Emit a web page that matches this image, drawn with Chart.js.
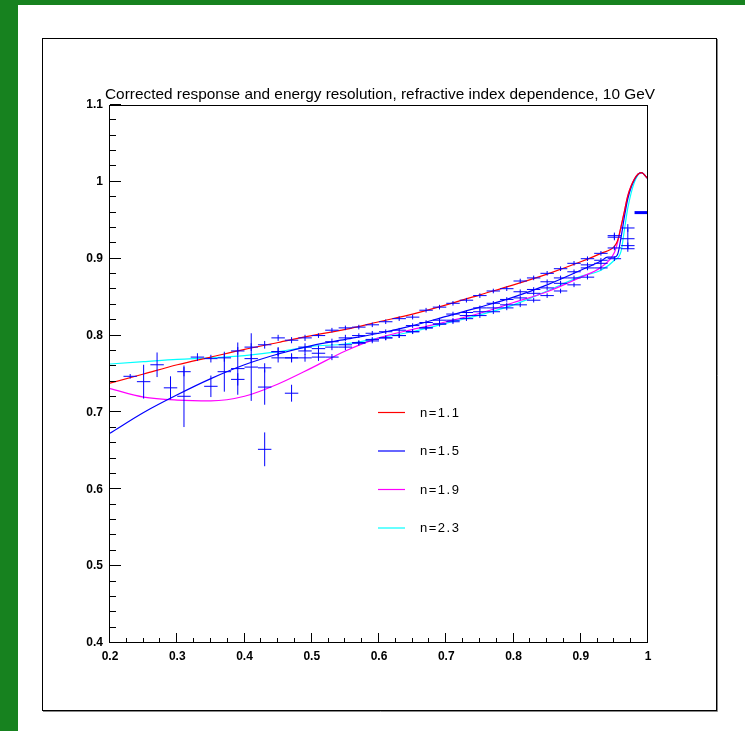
<!DOCTYPE html>
<html><head><meta charset="utf-8">
<script src="https://cdn.jsdelivr.net/npm/chart.js@4/dist/chart.umd.min.js"></script>
<style>html,body{margin:0;padding:0;background:#fff;overflow:hidden}canvas{display:block;position:absolute;left:0;top:0}</style>
</head><body>
<canvas id="c" width="745" height="731"></canvas>
<script>
// ---------- data ----------
const titleText = "Corrected response and energy resolution, refractive index dependence, 10 GeV";
const legendLabels = ["n=1.1", "n=1.5", "n=1.9", "n=2.3"];
const curveColors = ["#ff0000", "#0000ff", "#ff00ff", "#00ffff"];

const xTicks = [0.2, 0.3, 0.4, 0.5, 0.6, 0.7, 0.8, 0.9, 1.0];
const xTickLabels = ["0.2", "0.3", "0.4", "0.5", "0.6", "0.7", "0.8", "0.9", "1"];
const yTicks = [0.4, 0.5, 0.6, 0.7, 0.8, 0.9, 1.0, 1.1];
const yTickLabels = ["0.4", "0.5", "0.6", "0.7", "0.8", "0.9", "1", "1.1"];

// fitted curves
const curveRedX = [0.2, 0.25, 0.3, 0.35, 0.4, 0.45, 0.5, 0.55, 0.6, 0.65, 0.7, 0.75, 0.8, 0.85, 0.9, 0.93, 0.95, 0.955, 0.96, 0.965, 0.97, 0.98, 0.99, 1.0];
const curveN11 = [0.738, 0.750, 0.762, 0.772, 0.782, 0.791, 0.800, 0.808, 0.818, 0.828, 0.840, 0.853, 0.866, 0.880, 0.896, 0.907, 0.916, 0.924, 0.942, 0.962, 0.982, 1.004, 1.012, 1.004];
const curveBlueX = [0.2, 0.25, 0.3, 0.35, 0.4, 0.45, 0.5, 0.55, 0.6, 0.65, 0.7, 0.75, 0.8, 0.85, 0.9, 0.93, 0.94, 0.95, 0.955, 0.96, 0.965, 0.97, 0.98, 0.99, 1.0];
const curveN15 = [0.673, 0.700, 0.723, 0.744, 0.762, 0.776, 0.787, 0.795, 0.803, 0.813, 0.825, 0.837, 0.850, 0.866, 0.885, 0.897, 0.902, 0.902, 0.906, 0.928, 0.955, 0.978, 1.003, 1.012, 1.004];
const curveMagX = [0.2, 0.25, 0.3, 0.35, 0.4, 0.45, 0.5, 0.55, 0.6, 0.65, 0.7, 0.75, 0.8, 0.85, 0.9, 0.93, 0.95, 0.955, 0.96, 0.965, 0.97, 0.98, 0.99, 1.0];
const curveN19 = [0.731, 0.720, 0.716, 0.715, 0.721, 0.737, 0.758, 0.780, 0.797, 0.808, 0.818, 0.829, 0.843, 0.857, 0.876, 0.889, 0.908, 0.922, 0.942, 0.962, 0.982, 1.004, 1.012, 1.004];
const curveCyanX = [0.2, 0.25, 0.3, 0.35, 0.4, 0.45, 0.5, 0.55, 0.6, 0.65, 0.7, 0.75, 0.8, 0.85, 0.9, 0.93, 0.95, 0.96, 0.965, 0.97, 0.98, 0.99, 1.0];
const curveN23 = [0.763, 0.766, 0.769, 0.771, 0.774, 0.779, 0.786, 0.789, 0.797, 0.805, 0.816, 0.827, 0.840, 0.858, 0.877, 0.885, 0.898, 0.910, 0.938, 0.966, 1.000, 1.012, 1.004];

// short marker at the right edge
const markX = [0.98, 1.0];
const markY = [0.96, 0.96];

// measured points (x half-width 0.01)
const ptX = [0.23, 0.25, 0.27, 0.29, 0.31, 0.33, 0.35, 0.37, 0.39, 0.41, 0.43, 0.45, 0.47, 0.49, 0.51, 0.53, 0.55, 0.57, 0.59, 0.61, 0.63, 0.65, 0.67, 0.69, 0.71, 0.73, 0.75, 0.77, 0.79, 0.81, 0.83, 0.85, 0.87, 0.89, 0.91, 0.93, 0.95, 0.97];
const ptXErr = 0.01;
const ptN11 = [0.747, 0.740, 0.762, 0.732, 0.753, 0.772, 0.770, 0.771, 0.780, 0.785, 0.788, 0.797, 0.794, 0.797, 0.800, 0.807, 0.810, 0.811, 0.814, 0.818, 0.822, 0.824, 0.833, 0.837, 0.842, 0.846, 0.852, 0.858, 0.861, 0.871, 0.875, 0.881, 0.887, 0.894, 0.900, 0.907, 0.928, 0.926];
const errN11 = [0.003, 0.022, 0.016, 0.015, 0.006, 0.005, 0.005, 0.005, 0.005, 0.005, 0.005, 0.004, 0.004, 0.004, 0.003, 0.003, 0.003, 0.003, 0.003, 0.003, 0.003, 0.003, 0.003, 0.003, 0.003, 0.003, 0.003, 0.003, 0.003, 0.003, 0.003, 0.003, 0.003, 0.003, 0.003, 0.003, 0.004, 0.013];
const ptN15 = [null, null, null, null, 0.721, null, 0.734, 0.753, 0.757, 0.759, 0.758, 0.779, 0.771, 0.785, 0.777, 0.792, 0.797, 0.800, 0.803, 0.805, 0.807, 0.813, 0.817, 0.820, 0.828, 0.830, 0.836, 0.842, 0.847, 0.857, 0.860, 0.870, 0.875, 0.883, 0.892, 0.898, 0.914, 0.917];
const errN15 = [0, 0, 0, 0, 0.040, 0, 0.014, 0.026, 0.034, 0.044, 0.006, 0.006, 0.006, 0.005, 0.005, 0.004, 0.004, 0.003, 0.003, 0.003, 0.003, 0.003, 0.003, 0.003, 0.003, 0.003, 0.003, 0.003, 0.003, 0.003, 0.003, 0.003, 0.003, 0.003, 0.003, 0.003, 0.003, 0.004];
const ptN19 = [null, null, null, null, null, null, null, null, null, null, 0.733, 0.771, 0.725, 0.771, 0.772, 0.772, 0.785, 0.790, 0.793, 0.797, 0.800, 0.805, 0.810, 0.815, 0.818, 0.822, 0.826, 0.831, 0.836, 0.840, 0.846, 0.852, 0.858, 0.866, 0.876, 0.888, 0.930, 0.940];
const errN19 = [0, 0, 0, 0, 0, 0, 0, 0, 0, 0, 0.023, 0.006, 0.011, 0.005, 0.005, 0.004, 0.004, 0.003, 0.003, 0.003, 0.003, 0.003, 0.003, 0.003, 0.003, 0.003, 0.003, 0.003, 0.003, 0.003, 0.003, 0.003, 0.003, 0.003, 0.003, 0.003, 0.004, 0.005];
const ptN23 = [null, null, null, null, null, null, null, null, 0.743, 0.770, 0.652, 0.779, 0.771, 0.780, 0.783, 0.785, 0.788, 0.791, 0.795, 0.797, 0.800, 0.805, 0.810, 0.815, 0.820, 0.826, 0.831, 0.836, 0.840, 0.849, 0.855, 0.862, 0.868, 0.875, 0.888, 0.894, 0.900, 0.913];
const errN23 = [0, 0, 0, 0, 0, 0, 0, 0, 0.008, 0.006, 0.022, 0.005, 0.005, 0.005, 0.004, 0.004, 0.004, 0.003, 0.003, 0.003, 0.003, 0.003, 0.003, 0.003, 0.003, 0.003, 0.003, 0.003, 0.003, 0.003, 0.003, 0.003, 0.003, 0.003, 0.003, 0.003, 0.003, 0.004];

// ---------- build ----------
function xy(xs, ys) { return xs.map((v, i) => ({ x: v, y: ys[i] })); }
function pts(ys, es) {
  const out = [];
  ptX.forEach((v, i) => { if (ys[i] !== null) out.push({ x: v, y: ys[i], xe: ptXErr, ye: es[i] }); });
  return out;
}
function curve(xs, ys, col) {
  return { data: xy(xs, ys), showLine: true, borderColor: col, borderWidth: 1.2, pointRadius: 0, cubicInterpolationMode: 'monotone', fill: false };
}
function errSet(ys, es) {
  return { data: pts(ys, es), showLine: false, pointRadius: 0, errorBars: true, borderColor: '#0000ff' };
}

const FONT = "'Liberation Sans', Arial, sans-serif";

const rootPlugin = {
  id: 'rootStyle',
  beforeDraw(chart) {
    const ctx = chart.ctx;
    ctx.save();
    ctx.fillStyle = '#17821f';
    ctx.fillRect(0, 0, 745, 731);
    ctx.fillStyle = '#ffffff';
    ctx.fillRect(18, 5, 727, 726);
    // pad frame
    ctx.strokeStyle = '#888';
    ctx.lineWidth = 1;
    ctx.beginPath();
    ctx.moveTo(717.5, 39); ctx.lineTo(717.5, 711.5); ctx.lineTo(43, 711.5);
    ctx.stroke();
    ctx.strokeStyle = '#000';
    ctx.strokeRect(42.5, 38.5, 674, 672);
    ctx.restore();
  },
  afterDatasetsDraw(chart) {
    const { ctx, scales: { x, y } } = chart;
    ctx.save();
    ctx.lineWidth = 1;
    chart.data.datasets.forEach(ds => {
      if (!ds.errorBars) return;
      ctx.strokeStyle = ds.borderColor;
      ds.data.forEach(p => {
        const px = x.getPixelForValue(p.x), py = y.getPixelForValue(p.y);
        const x0 = x.getPixelForValue(p.x - p.xe), x1 = x.getPixelForValue(p.x + p.xe);
        const y0 = y.getPixelForValue(p.y - p.ye), y1 = y.getPixelForValue(p.y + p.ye);
        ctx.beginPath();
        ctx.moveTo(x0, py); ctx.lineTo(x1, py);
        ctx.moveTo(px, y0); ctx.lineTo(px, y1);
        ctx.stroke();
      });
    });
    ctx.restore();
  },
  afterDraw(chart) {
    const { ctx, chartArea: a, scales: { x, y } } = chart;
    ctx.save();
    // plot frame
    ctx.strokeStyle = '#000';
    ctx.lineWidth = 1;
    ctx.strokeRect(Math.round(a.left) - 0.5, Math.round(a.top) + 0.5, Math.round(a.right - a.left), Math.round(a.bottom - a.top) - 1);
    // ticks (inside)
    ctx.beginPath();
    for (let i = 0; i <= 32; i++) {
      const v = 0.2 + i * 0.025;
      const px = Math.round(x.getPixelForValue(v)) - 0.5;
      const len = (i % 4 === 0) ? 10 : 5;
      ctx.moveTo(px, a.bottom); ctx.lineTo(px, a.bottom - len);
    }
    for (let i = 0; i <= 35; i++) {
      const v = 0.4 + i * 0.02;
      const py = Math.round(y.getPixelForValue(v)) - 0.5;
      const len = (i % 5 === 0) ? 11 : 6;
      ctx.moveTo(a.left, py); ctx.lineTo(a.left + len, py);
    }
    ctx.stroke();
    // title
    ctx.fillStyle = '#000';
    ctx.font = '15px ' + FONT;
    ctx.textBaseline = 'middle';
    ctx.textAlign = 'left';
    const w = ctx.measureText(titleText).width;
    ctx.save();
    ctx.translate(105, 95);
    ctx.scale(550 / w, 1);
    ctx.fillText(titleText, 0, 0);
    ctx.restore();
    // legend
    const rows = [412.5, 451, 489.5, 528];
    ctx.font = '13px ' + FONT;
    try { ctx.letterSpacing = '1.5px'; } catch (e) {}
    legendLabels.forEach((lab, i) => {
      ctx.strokeStyle = curveColors[i];
      ctx.lineWidth = 1.2;
      ctx.beginPath();
      ctx.moveTo(378, rows[i]); ctx.lineTo(405, rows[i]);
      ctx.stroke();
      ctx.fillStyle = '#000';
      ctx.fillText(lab, 420, rows[i] + 0.5);
    });
    ctx.restore();
  }
};

new Chart(document.getElementById('c'), {
  type: 'scatter',
  data: {
    datasets: [
      curve(curveRedX, curveN11, curveColors[0]),
      curve(curveBlueX, curveN15, curveColors[1]),
      curve(curveMagX, curveN19, curveColors[2]),
      curve(curveCyanX, curveN23, curveColors[3]),
      { data: xy(markX, markY), showLine: true, borderColor: '#0000ff', borderWidth: 3, pointRadius: 0 },
      errSet(ptN11, errN11),
      errSet(ptN15, errN15),
      errSet(ptN19, errN19),
      errSet(ptN23, errN23)
    ]
  },
  options: {
    responsive: false,
    animation: false,
    devicePixelRatio: 1,
    layout: { padding: { left: 20, top: 105, right: 97, bottom: 40 } },
    plugins: { legend: { display: false }, title: { display: false }, tooltip: { enabled: false } },
    scales: {
      x: {
        type: 'linear', min: 0.2, max: 1.0,
        grid: { display: false, drawTicks: false, tickLength: 0 },
        border: { display: false },
        ticks: {
          color: '#000', padding: 6, maxRotation: 0, autoSkip: false,
          font: { family: FONT, size: 12, weight: 'bold' },
          callback: (v) => { const i = xTicks.findIndex(t => Math.abs(t - v) < 1e-6); return i >= 0 ? xTickLabels[i] : ''; }
        },
        afterBuildTicks: (s) => { s.ticks = xTicks.map(v => ({ value: v })); },
        afterFit: (s) => { s.height = 48; }
      },
      y: {
        type: 'linear', min: 0.4, max: 1.1,
        grid: { display: false, drawTicks: false, tickLength: 0 },
        border: { display: false },
        ticks: {
          color: '#000', padding: 7, autoSkip: false,
          font: { family: FONT, size: 12, weight: 'bold' },
          callback: (v) => { const i = yTicks.findIndex(t => Math.abs(t - v) < 1e-6); return i >= 0 ? yTickLabels[i] : ''; }
        },
        afterBuildTicks: (s) => { s.ticks = yTicks.map(v => ({ value: v })); },
        afterFit: (s) => { s.width = 90; }
      }
    }
  },
  plugins: [rootPlugin]
});
</script>
</body></html>
